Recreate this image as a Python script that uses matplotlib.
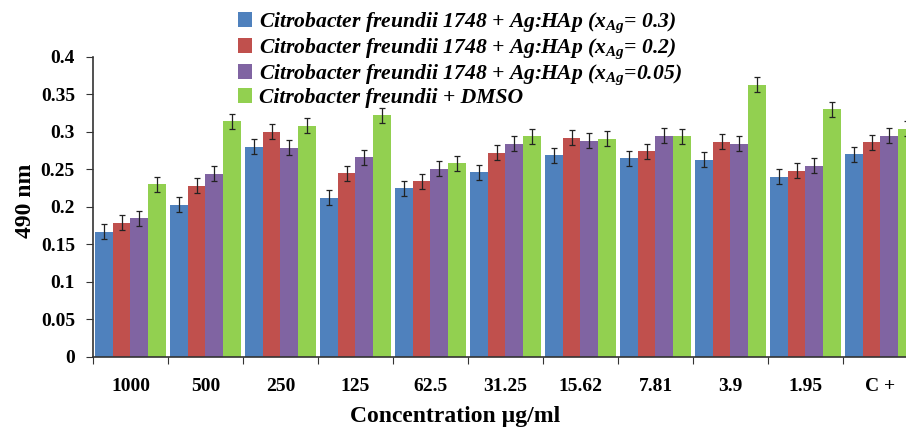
import matplotlib.pyplot as plt
import numpy as np
from matplotlib.ticker import FuncFormatter

plt.rcParams["font.family"] = ["Liberation Serif", "DejaVu Serif"]
plt.rcParams["mathtext.fontset"] = "custom"
plt.rcParams["mathtext.rm"] = "Liberation Serif:italic:bold"
plt.rcParams["mathtext.it"] = "Liberation Serif:italic:bold"
plt.rcParams["mathtext.bf"] = "Liberation Serif:italic:bold"

concentrations = ["1000", "500", "250", "125", "62.5", "31.25", "15.62", "7.81", "3.9", "1.95", "C +"]

ag_03 = [0.167, 0.203, 0.280, 0.212, 0.225, 0.246, 0.269, 0.265, 0.263, 0.240, 0.270]
ag_02 = [0.179, 0.228, 0.300, 0.245, 0.234, 0.272, 0.292, 0.274, 0.287, 0.248, 0.286]
ag_005 = [0.185, 0.244, 0.279, 0.266, 0.251, 0.284, 0.288, 0.295, 0.284, 0.255, 0.295]
dmso = [0.230, 0.314, 0.308, 0.322, 0.258, 0.294, 0.291, 0.294, 0.363, 0.330, 0.304]
err = [0.010, 0.010, 0.010, 0.010, 0.010, 0.010, 0.010, 0.010, 0.010, 0.010, 0.010]

labels = [
    r"Citrobacter freundii 1748 + Ag:HAp (x$_{Ag}$= 0.3)",
    r"Citrobacter freundii 1748 + Ag:HAp (x$_{Ag}$= 0.2)",
    r"Citrobacter freundii 1748 + Ag:HAp (x$_{Ag}$=0.05)",
    "Citrobacter freundii + DMSO",
]
colors = ["#4F81BD", "#C0504D", "#8064A2", "#92D050"]

fig = plt.figure(figsize=(9.06, 4.28), dpi=100)
ax = fig.add_axes([0.1026, 0.166, 0.9106, 0.701])

x = np.arange(len(concentrations))
width = 0.235
series = [ag_03, ag_02, ag_005, dmso]
for i, (vals, col, lab) in enumerate(zip(series, colors, labels)):
    ax.bar(x + (i - 1.5) * width, vals, width, color=col, label=lab,
           yerr=err, error_kw=dict(ecolor="#222222", elinewidth=0.9, capsize=2.2, capthick=0.9))

ax.set_xlim(-0.5, len(concentrations) - 0.5)
ax.set_ylim(0, 0.4)
ax.set_yticks(np.arange(0, 0.401, 0.05))
ax.yaxis.set_major_formatter(FuncFormatter(lambda v, _: f"{v:g}"))

# group boundary ticks on x, labels centred under each group
ax.set_xticks(np.arange(-0.5, len(concentrations), 1.0))
ax.set_xticklabels([])
ax.set_xticks(x, minor=True)
ax.set_xticklabels(concentrations, minor=True)
ax.tick_params(axis="x", which="minor", length=0, pad=15)
ax.tick_params(axis="x", which="major", length=5, direction="out", color="#333333")
ax.tick_params(axis="y", length=5, direction="out", color="#333333", pad=8)
for lbl in ax.get_xticklabels(minor=True) + ax.get_yticklabels():
    lbl.set_fontweight("bold")
    lbl.set_fontsize(14)

for side in ["top", "right"]:
    ax.spines[side].set_visible(False)
for side in ["left", "bottom"]:
    ax.spines[side].set_color("#333333")
    ax.spines[side].set_linewidth(1.2)

ax.set_ylabel("490 nm", fontsize=17, fontweight="bold")
ax.yaxis.set_label_coords(-0.069, 0.52)
ax.set_xlabel("Concentration µg/ml", fontsize=17, fontweight="bold")
ax.xaxis.set_label_coords(0.439, -0.165)

leg = fig.legend(loc="upper left", bbox_to_anchor=(0.251, 1.0), frameon=False,
                 prop=dict(family="Liberation Serif", style="italic", weight="bold", size=15.6),
                 handlelength=0.65, handleheight=0.65, handletextpad=0.3,
                 labelspacing=0.06, borderaxespad=0.1)

fig.savefig("out.png", dpi=100)
